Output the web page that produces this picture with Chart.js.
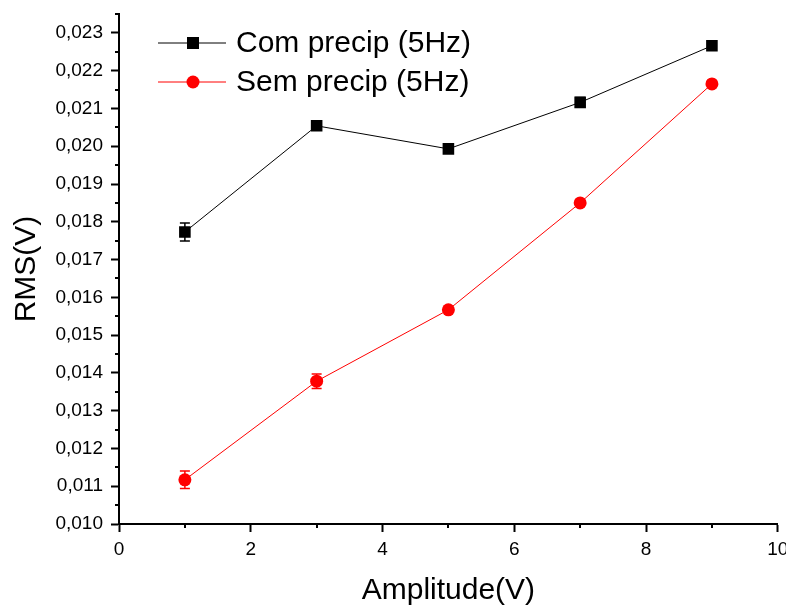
<!DOCTYPE html>
<html>
<head>
<meta charset="utf-8">
<script src="https://cdn.jsdelivr.net/npm/chart.js@4.4.0/dist/chart.umd.min.js"></script>
<style>
  html, body { margin: 0; padding: 0; background: #fff; }
  canvas { display: block; }
</style>
</head>
<body>
<canvas id="rms-chart" width="786" height="609"></canvas>
<script>
// data
const amplitudes = [1, 3, 5, 7, 9];
const comPrecip = [0.01773, 0.02054, 0.01993, 0.02116, 0.02266];
const comPrecipErr = [0.00024, 0.00004, 0.00004, 0.00013, 0.00004];
const semPrecip = [0.01117, 0.01378, 0.01567, 0.01850, 0.02165];
const semPrecipErr = [0.00023, 0.00019, 0.00004, 0.00004, 0.00004];
const seriesLabels = ['Com precip (5Hz)', 'Sem precip (5Hz)'];
const xTicks = [0, 2, 4, 6, 8, 10];
const xMinorTicks = [1, 3, 5, 7, 9];
const yTicks = [0.010, 0.011, 0.012, 0.013, 0.014, 0.015, 0.016, 0.017, 0.018, 0.019, 0.020, 0.021, 0.022, 0.023];
const yMinorTicks = [0.0105, 0.0115, 0.0125, 0.0135, 0.0145, 0.0155, 0.0165, 0.0175, 0.0185, 0.0195, 0.0205, 0.0215, 0.0225, 0.0235];

const FONT = 'Arial, "Liberation Sans", sans-serif';

function toPoints(values) {
  return amplitudes.map((x, i) => ({ x: x, y: values[i] }));
}

// vertical error bars with caps, drawn under the markers
const errorBars = {
  id: 'errorBars',
  beforeDatasetsDraw(chart) {
    const ctx = chart.ctx;
    const yScale = chart.scales.y;
    chart.data.datasets.forEach((ds, di) => {
      const meta = chart.getDatasetMeta(di);
      ctx.save();
      ctx.strokeStyle = ds.borderColor;
      ctx.lineWidth = 1.5;
      meta.data.forEach((pt, i) => {
        const v = ds.data[i].y;
        const e = ds.errors[i];
        const yTop = yScale.getPixelForValue(v + e);
        const yBot = yScale.getPixelForValue(v - e);
        ctx.beginPath();
        ctx.moveTo(pt.x, yTop);
        ctx.lineTo(pt.x, yBot);
        ctx.moveTo(pt.x - 5, yTop);
        ctx.lineTo(pt.x + 5, yTop);
        ctx.moveTo(pt.x - 5, yBot);
        ctx.lineTo(pt.x + 5, yBot);
        ctx.stroke();
      });
      ctx.restore();
    });
  }
};

// short minor ticks on both axes
const minorTicks = {
  id: 'minorTicks',
  afterDraw(chart) {
    const ctx = chart.ctx;
    const xs = chart.scales.x, ys = chart.scales.y;
    const area = chart.chartArea;
    ctx.save();
    ctx.strokeStyle = '#000';
    ctx.lineWidth = 2;
    ctx.beginPath();
    xMinorTicks.forEach(v => {
      const px = Math.round(xs.getPixelForValue(v));
      ctx.moveTo(px, area.bottom);
      ctx.lineTo(px, area.bottom + 4);
    });
    yMinorTicks.forEach(v => {
      const py = Math.round(ys.getPixelForValue(v));
      ctx.moveTo(area.left, py);
      ctx.lineTo(area.left - 4, py);
    });
    ctx.stroke();
    ctx.restore();
  }
};

// Origin-style legend inside the plot area
const insideLegend = {
  id: 'insideLegend',
  afterDraw(chart) {
    const ctx = chart.ctx;
    const rows = [43, 82];
    ctx.save();
    chart.data.datasets.forEach((ds, i) => {
      const y = rows[i];
      ctx.strokeStyle = ds.borderColor;
      ctx.lineWidth = 1;
      ctx.beginPath();
      ctx.moveTo(158, y);
      ctx.lineTo(226, y);
      ctx.stroke();
      ctx.fillStyle = ds.backgroundColor;
      if (ds.pointStyle === 'rect') {
        ctx.fillRect(187, y - 6, 12, 12);
      } else {
        ctx.beginPath();
        ctx.arc(193, y, 6.5, 0, Math.PI * 2);
        ctx.fill();
      }
      ctx.fillStyle = '#000';
      ctx.font = '30px ' + FONT;
      ctx.textBaseline = 'middle';
      ctx.fillText(ds.label, 236, y + 1);
    });
    ctx.restore();
  }
};

const ctx = document.getElementById('rms-chart').getContext('2d');
new Chart(ctx, {
  type: 'scatter',
  data: {
    datasets: [{
      label: seriesLabels[0],
      data: toPoints(comPrecip),
      errors: comPrecipErr,
      showLine: true,
      borderColor: '#000000',
      backgroundColor: '#000000',
      borderWidth: 1,
      pointStyle: 'rect',
      pointRadius: 8.2,
      pointHoverRadius: 8.2,
      pointBorderWidth: 0
    }, {
      label: seriesLabels[1],
      data: toPoints(semPrecip),
      errors: semPrecipErr,
      showLine: true,
      borderColor: '#ff0000',
      backgroundColor: '#ff0000',
      borderWidth: 1,
      pointStyle: 'circle',
      pointRadius: 6.5,
      pointHoverRadius: 6.5,
      pointBorderWidth: 0
    }]
  },
  options: {
    responsive: false,
    animation: false,
    layout: { padding: { top: 14, right: 8, left: 0, bottom: 0 } },
    plugins: {
      legend: { display: false },
      tooltip: { enabled: false }
    },
    scales: {
      x: {
        type: 'linear',
        min: 0,
        max: 10,
        afterBuildTicks: s => { s.ticks = xTicks.map(v => ({ value: v })); },
        afterFit: s => { s.height = 85; s.paddingLeft = 0; s.paddingRight = 0; },
        border: { display: true, color: '#000', width: 2 },
        grid: { display: true, drawOnChartArea: false, drawTicks: true, tickLength: 8, tickWidth: 2, tickColor: '#000' },
        ticks: {
          color: '#000',
          padding: 6,
          font: { family: FONT, size: 19 },
          maxRotation: 0,
          callback: v => String(v)
        },
        title: {
          display: true,
          text: 'Amplitude(V)',
          color: '#000',
          font: { family: FONT, size: 30 },
          padding: { top: 0, bottom: 0 }
        }
      },
      y: {
        type: 'linear',
        min: 0.010,
        max: 0.0235,
        afterBuildTicks: s => { s.ticks = yTicks.map(v => ({ value: v })); },
        afterFit: s => { s.width = 119; s.paddingTop = 0; s.paddingBottom = 0; },
        border: { display: true, color: '#000', width: 2 },
        grid: { display: true, drawOnChartArea: false, drawTicks: true, tickLength: 8, tickWidth: 2, tickColor: '#000' },
        ticks: {
          color: '#000',
          padding: 8,
          font: { family: FONT, size: 19 },
          callback: v => v.toFixed(3).replace('.', ',')
        },
        title: {
          display: true,
          text: 'RMS(V)',
          color: '#000',
          font: { family: FONT, size: 30 },
          padding: { top: 9, bottom: 0 }
        }
      }
    }
  },
  plugins: [errorBars, minorTicks, insideLegend]
});
</script>
</body>
</html>
